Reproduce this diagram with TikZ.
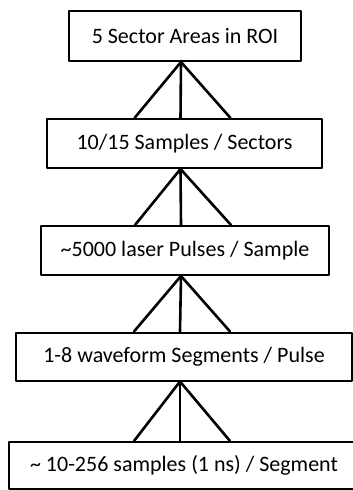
\documentclass[tikz,border=0pt]{standalone}
\usepackage{fontspec}
\setmainfont{Carlito}

\begin{document}
\begin{tikzpicture}[line cap=round,line join=round,x=1pt,y=-1pt,
  level/.style={draw,line width=2pt,inner sep=0pt,font=\fontsize{22}{26}\selectfont},
  leg/.style={line width=2.6pt}]
\clip (0,0) rectangle (353,490);
\node[level,minimum width=232pt,minimum height=50pt] (roi) at (185,36) {5 Sector Areas in ROI};
\node[level,minimum width=275pt,minimum height=49pt] (smp) at (184.5,143.5) {10/15 Samples / Sectors};
\node[level,minimum width=288pt,minimum height=49pt] (pls) at (185,250.5) {\string~5000 laser Pulses / Sample};
\node[level,minimum width=336pt,minimum height=48pt] (seg) at (184,356.5) {1-8 waveform Segments / Pulse};
\node[level,minimum width=350pt,minimum height=47pt] (bin) at (184,465.5) {\string~ 10-256 samples (1 ns) / Segment};
% three legs between each pair of levels
\foreach \a/\b in {roi/smp,smp/pls,pls/seg,seg/bin}
  \foreach \dx in {-50,-4,46}
    \draw[leg] ([xshift=-4pt]\a.south) -- ([xshift=\dx pt]\b.north);
\end{tikzpicture}
\end{document}
